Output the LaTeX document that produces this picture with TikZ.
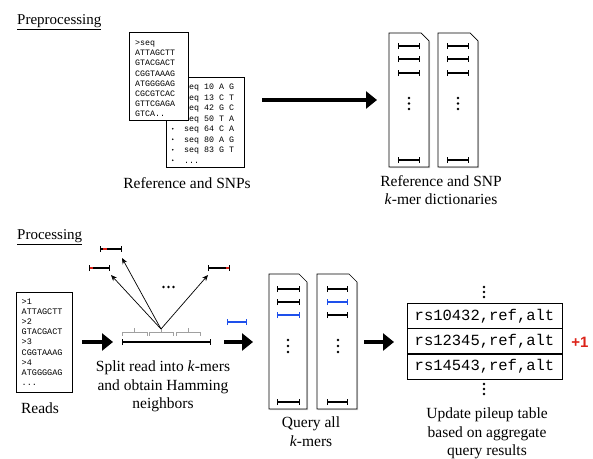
\documentclass[tikz,border=0pt]{standalone}
\usepackage{fontspec}
\setmainfont{Liberation Serif}
\setmonofont{Liberation Mono}
\newfontfamily\plusfont{Liberation Sans}
\usetikzlibrary{arrows.meta,shadows}
\definecolor{kblue}{RGB}{30,80,235}
\definecolor{kred}{RGB}{220,35,25}
\definecolor{bgray}{RGB}{160,160,160}
\newcommand\tdots{...}
\newcommand\tdotstwo{..}
\begin{document}
\begin{tikzpicture}[x=1pt,y=-1pt,
  lbl/.style={font=\fontsize{15.5}{18.5}\selectfont, align=center, inner sep=0pt},
  head/.style={font=\fontsize{15}{17}\selectfont, anchor=base west, inner sep=0pt},
  seqtxt/.style={font=\ttfamily\fontsize{8.3}{10}\selectfont, anchor=base west, inner sep=0pt},
  docbox/.style={draw, line width=0.7pt, fill=white, drop shadow={shadow xshift=1.2pt, shadow yshift=-1.2pt, opacity=0.35}},
  kbar/.style={line width=1.4pt, {Bar[width=6pt]}-{Bar[width=6pt]}},
  redmark/.style={line width=1.4pt, kred},
  bigarrow/.style={line width=4.5pt, -{Triangle[length=11pt,width=17pt]}},
  thinarrow/.style={line width=0.7pt, -{Stealth[length=6pt,width=5pt]}},
  vdot/.style={circle, fill, inner sep=0pt, minimum size=2.8pt},
  sdot/.style={circle, fill, inner sep=0pt, minimum size=1.8pt},
  row/.style={draw, line width=0.7pt, minimum width=155pt, minimum height=25.5pt, inner sep=0pt, font=\ttfamily\fontsize{15.5}{16}\selectfont},
]
\useasboundingbox (0,0) rectangle (593,458);

% ---------------- Preprocessing ----------------
\node[head] (pre) at (17,24.5) {\underline{Preprocessing}};

% SNP box (behind)
\draw[docbox] (166,77) rectangle (244,167);
\foreach \t [count=\i from 0] in {seq 10 A G, seq 13 C T, seq 42 G C, seq 50 T A, seq 64 C A, seq 80 A G, seq 83 G T, \tdots}{
  \node[sdot] at (172.7,{86.7+10.5*\i}) {};
  \node[seqtxt] at (184,{89.5+10.5*\i}) {\t};
}
% Reference box (front)
\draw[docbox] (129,32) rectangle (188,120);
\foreach \t [count=\i from 0] in {>seq, ATTAGCTT, GTACGACT, CGGTAAAG, ATGGGGAG, CGCGTCAC, GTTCGAGA, GTCA\tdotstwo}{
  \node[seqtxt] at (135,{45.7+10.1*\i}) {\t};
}
\node[lbl] (refsnp) at (187,183) {Reference and SNPs};

% top arrow
\coordinate (a0s) at (262,100);
\coordinate (a0e) at (377,100);
\draw[bigarrow] (a0s) -- (a0e);

% dictionaries
\draw[docbox] (389,33) -- (421,33) -- (429,41) -- (429,167) -- (389,167) -- cycle;
\draw[docbox] (438,33) -- (470,33) -- (478,41) -- (478,167) -- (438,167) -- cycle;
\foreach \y in {46,59,73,160}{
  \draw[kbar] (398,\y) -- (420,\y);
  \draw[kbar] (447,\y) -- (469,\y);
}
\foreach \y in {98,103.5,109}{
  \node[vdot] at (409,\y) {};
  \node[vdot] at (458,\y) {};
}
\node[lbl] (dictlbl) at (441,190) {Reference and SNP\\\textit{k}-mer dictionaries};

% ---------------- Processing ----------------
\node[head] (proc) at (17,239.5) {\underline{Processing}};

% Reads box
\draw[docbox] (16,292) rectangle (72,392);
\foreach \t [count=\i from 0] in {>1, ATTAGCTT, >2, GTACGACT, >3, CGGTAAAG, >4, ATGGGGAG, \tdots}{
  \node[seqtxt, font=\ttfamily\fontsize{8.5}{10}\selectfont] at (21.5,{304.5+10.1*\i}) {\t};
}
\node[lbl] (reads) at (40,408) {Reads};

\coordinate (a1s) at (82,342);
\coordinate (a1e) at (113,342);
\draw[bigarrow] (a1s) -- (a1e);

% read and k-mer brackets
\draw[kbar] (122,342) -- (211,342);
\foreach \a/\b in {122/147,149.5/173.5,176/200}{
  \draw[bgray, line width=0.7pt] (\a,335.5) -- (\a,332) -- (\b,332) -- (\b,335.5);
  \draw[bgray, line width=0.7pt] ({(\a+\b)/2},332) -- ({(\a+\b)/2},328);
}
\coordinate (apex) at (161,329);
\coordinate (n1) at (111,275);
\coordinate (n2) at (122,258);
\coordinate (n3) at (208,275);
\draw[thinarrow] (apex) -- (n1);
\draw[thinarrow] (apex) -- (n2);
\draw[thinarrow] (apex) -- (n3);

% neighbors
\draw[kbar] (100,249) -- (122,249);
\draw[redmark] (103.3,249) -- (106.5,249);
\draw[kbar] (89,268) -- (110,268);
\draw[redmark] (89.8,268) -- (92.8,268);
\draw[kbar] (208,268) -- (230,268);
\draw[redmark] (226,268) -- (229.2,268);
\foreach \x in {163.5,168.5,173.5}{ \node[vdot] at (\x,287) {}; }

\draw[kbar, kblue] (227,322) -- (247,322);

\node[lbl] (split) at (163,386.5) {Split read into \textit{k}-mers\\and obtain Hamming\\neighbors};

\coordinate (a2s) at (224,342);
\coordinate (a2e) at (253,342);
\draw[bigarrow] (a2s) -- (a2e);

% query docs
\draw[docbox] (269,274) -- (299,274) -- (307,282) -- (307,409) -- (269,409) -- cycle;
\draw[docbox] (317,274) -- (349,274) -- (357,282) -- (357,409) -- (317,409) -- cycle;
\draw[kbar] (277,289) -- (300,289);
\draw[kbar] (277,302) -- (300,302);
\draw[kbar, kblue] (277,315) -- (300,315);
\draw[kbar] (277,402) -- (300,402);
\draw[kbar] (327,289) -- (348,289);
\draw[kbar, kblue] (327,302) -- (348,302);
\draw[kbar] (327,315) -- (348,315);
\draw[kbar] (327,402) -- (348,402);
\foreach \y in {340,346,352}{
  \node[vdot] at (288,\y) {};
  \node[vdot] at (338,\y) {};
}
\node[lbl] (query) at (311,431.5) {Query all\\\textit{k}-mers};

\coordinate (a3s) at (364,342);
\coordinate (a3e) at (394,342);
\draw[bigarrow] (a3s) -- (a3e);

% table
\node[row] (r1) at (484.5,316) {rs10432,ref,alt};
\node[row] (r2) at (484.5,341.5) {rs12345,ref,alt};
\node[row] (r3) at (484.5,366.5) {rs14543,ref,alt};
\node[font=\plusfont\bfseries\fontsize{15}{15}\selectfont, text=kred, inner sep=0pt] (plus) at (580,342) {+1};
\foreach \y in {287,292,297,384,389,394}{ \node[vdot] at (484,\y) {}; }
\node[lbl] (upd) at (487,433.5) {Update pileup table\\based on aggregate\\query results};
\end{tikzpicture}
\end{document}
